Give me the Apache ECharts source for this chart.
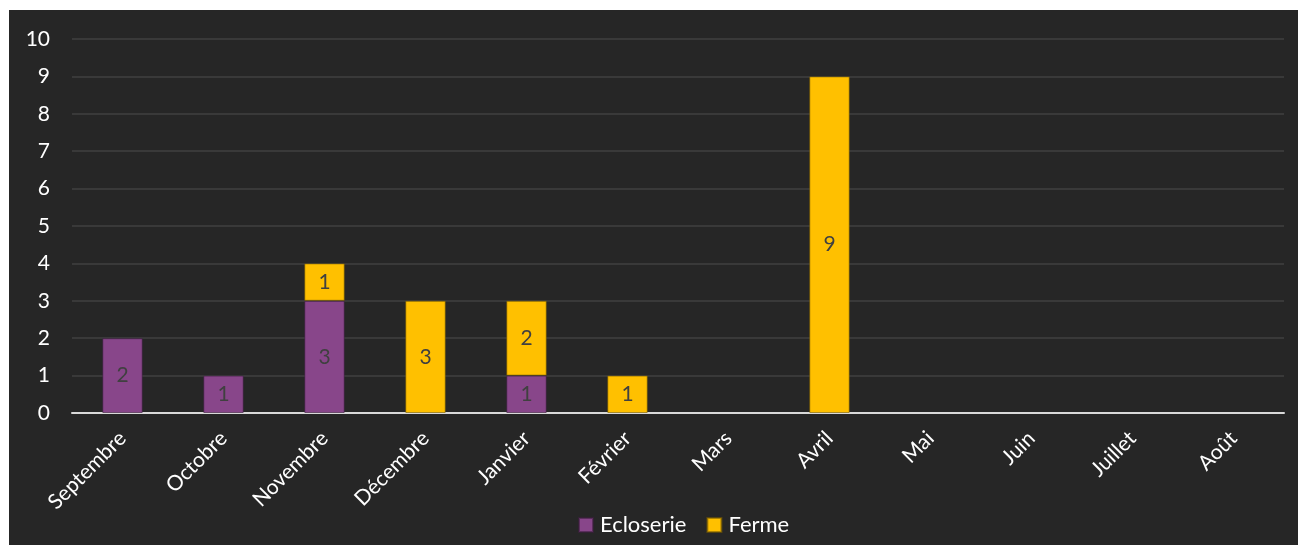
<!DOCTYPE html>
<html>
<head>
<meta charset="utf-8">
<script src="https://cdn.jsdelivr.net/npm/echarts@6/dist/echarts.min.js"></script>
<style>
  html, body { margin: 0; padding: 0; background: #ffffff; width: 1299px; height: 545px; overflow: hidden; }
  #chart { position: absolute; left: 9px; top: 10px; width: 1289px; height: 535px; background: #262626; }
</style>
</head>
<body>
<div id="chart"></div>
<script>
// Monthly counts, split by origin
const months = ['Septembre', 'Octobre', 'Novembre', 'Décembre', 'Janvier', 'Février', 'Mars', 'Avril', 'Mai', 'Juin', 'Juillet', 'Août'];
const ecloserie = [2, 1, 3, null, 1, null, null, null, null, null, null, null];
const ferme = [null, null, 1, 3, 2, 1, null, 9, null, null, null, null];

const FONT = 'Lato, "Open Sans", sans-serif';

const chart = echarts.init(document.getElementById('chart'), null, { renderer: 'canvas' });

function barSeries(name, data, color, border) {
  return {
    name: name,
    type: 'bar',
    stack: 'total',
    data: data,
    barWidth: '40%',
    itemStyle: { color: color, borderColor: border, borderWidth: 1 },
    label: {
      show: true,
      position: 'inside',
      color: '#404040',
      fontFamily: FONT,
      fontSize: 21,
      formatter: p => (p.value == null ? '' : String(p.value))
    },
    emphasis: { disabled: true }
  };
}

chart.setOption({
  animation: false,
  backgroundColor: 'transparent',
  grid: { left: 63, right: 14, top: 29, bottom: 132 },
  xAxis: {
    type: 'category',
    data: months,
    axisLine: { lineStyle: { color: '#d9d9d9', width: 2 } },
    axisTick: { show: false },
    axisLabel: {
      color: '#ffffff',
      fontFamily: FONT,
      fontSize: 21,
      rotate: 45,
      margin: 22,
      interval: 0
    }
  },
  yAxis: {
    type: 'value',
    min: 0,
    max: 10,
    interval: 1,
    axisLine: { show: false },
    axisTick: { show: false },
    axisLabel: { color: '#ffffff', fontFamily: FONT, fontSize: 21, margin: 22 },
    splitLine: { lineStyle: { color: '#404040', width: 1.5 } }
  },
  legend: {
    bottom: 4,
    left: 564,
    itemWidth: 14,
    itemHeight: 14,
    itemGap: 20,
    icon: 'rect',
    textStyle: { color: '#ffffff', fontFamily: FONT, fontSize: 22, padding: [0, 0, 0, 2] },
    data: ['Ecloserie', 'Ferme']
  },
  series: [
    barSeries('Ecloserie', ecloserie, '#88468a', 'rgba(60,30,62,0.6)'),
    barSeries('Ferme', ferme, '#ffc000', 'rgba(120,92,0,0.6)')
  ]
});
</script>
</body>
</html>
